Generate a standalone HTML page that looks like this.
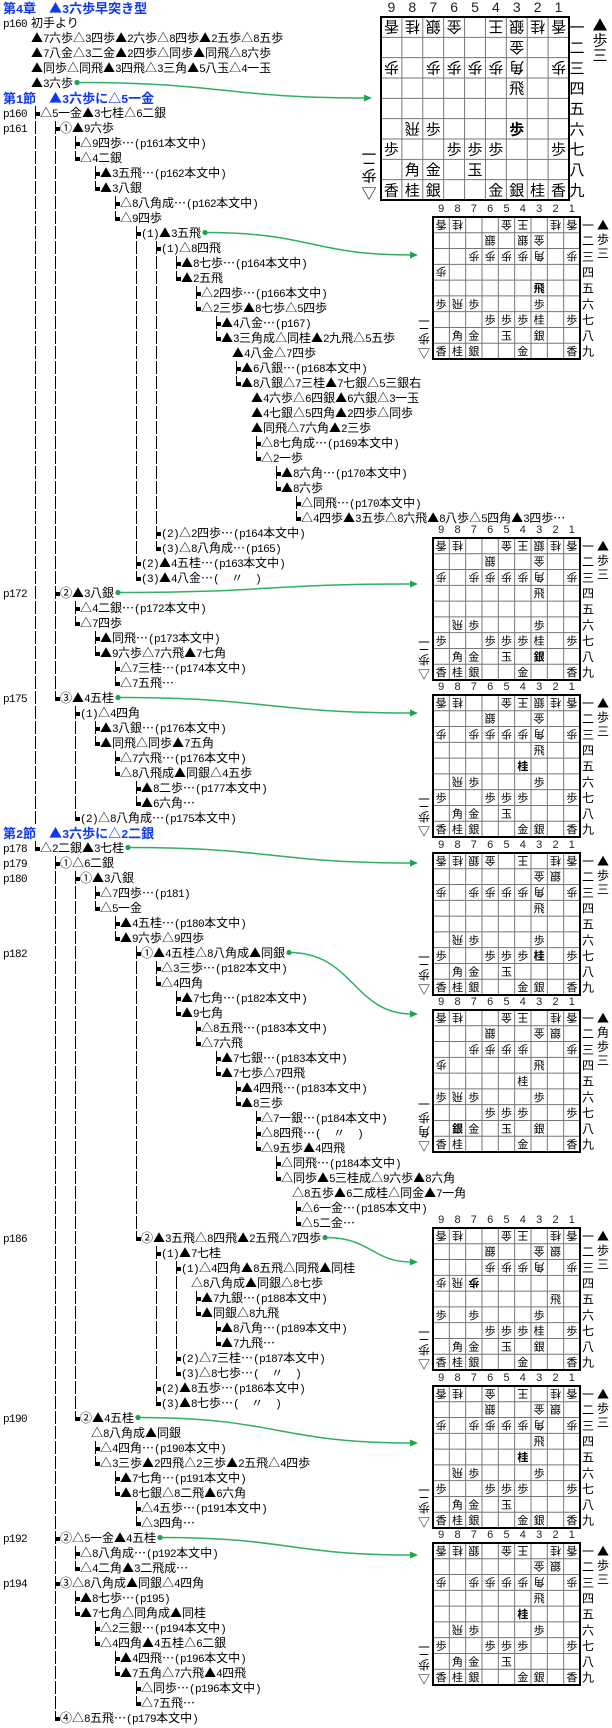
<!DOCTYPE html>
<html><head><meta charset="utf-8">
<style>
html,body{margin:0;padding:0;background:#fff;}
body{width:612px;height:1726px;position:relative;overflow:hidden;font-family:"Noto Sans CJK JP",sans-serif;font-size:12px;color:#000;}
.ln{position:absolute;height:15px;line-height:15px;white-space:nowrap;}
.a{font-family:"Liberation Mono",monospace;font-size:11px;letter-spacing:-0.6px;}
.h{font-weight:bold;color:#1038f0;font-size:13px;}
.h .a{font-size:12px;font-weight:bold;letter-spacing:-0.2px;}
.b{position:absolute;background:#000;}
svg{position:absolute;left:0;top:0;}
</style></head><body>
<div id="t"></div>
<svg id="s" width="612" height="1726" xmlns="http://www.w3.org/2000/svg"></svg>
<script>
const L=[
['H',0,"第4章　▲3六歩早突き型"],
['P',31,"初手より","p160"],
['P',31,"▲7六歩△3四歩▲2六歩△8四歩▲2五歩△8五歩"],
['P',31,"▲7八金△3二金▲2四歩△同歩▲同飛△8六歩"],
['P',31,"▲同歩△同飛▲3四飛△3三角▲5八玉△4一玉"],
['P',31,"▲3六歩",null,0],
['H',0,"第1節　▲3六歩に△5一金"],
['T',0,"△5一金▲3七桂△6二銀","p160"],
['T',1,"①▲9六歩","p161"],
['T',2,"△9四歩…(p161本文中)"],
['L',2,"△4二銀"],
['T',3,"▲3五飛…(p162本文中)"],
['L',3,"▲3八銀"],
['T',4,"△8八角成…(p162本文中)"],
['L',4,"△9四歩"],
['T',5,"(1)▲3五飛",null,1],
['T',6,"(1)△8四飛"],
['T',7,"▲8七歩…(p164本文中)"],
['L',7,"▲2五飛"],
['T',8,"△2四歩…(p166本文中)"],
['L',8,"△2三歩▲8七歩△5四歩"],
['T',9,"▲4八金…(p167)"],
['L',9,"▲3三角成△同桂▲2九飛△5五歩"],
['C',9,"▲4八金△7四歩",null,null,232],
['T',10,"▲6八銀…(p168本文中)"],
['L',10,"▲8八銀△7三桂▲7七銀△5三銀右"],
['C',10,"▲4六歩△6四銀▲6六銀△3一玉",null,null,251],
['C',10,"▲4七銀△5四角▲2四歩△同歩",null,null,251],
['C',10,"▲同飛△7六角▲2三歩",null,null,251],
['T',11,"△8七角成…(p169本文中)"],
['L',11,"△2一歩"],
['T',12,"▲8六角…(p170本文中)"],
['L',12,"▲8六歩"],
['T',13,"△同飛…(p170本文中)"],
['L',13,"△4四歩▲3五歩△8六飛▲8八歩△5四角▲3四歩…"],
['T',6,"(2)△2四歩…(p164本文中)"],
['L',6,"(3)△8八角成…(p165)"],
['T',5,"(2)▲4五桂…(p163本文中)"],
['L',5,"(3)▲4八金…(　〃　)"],
['T',1,"②▲3八銀","p172",2],
['T',2,"△4二銀…(p172本文中)"],
['L',2,"△7四歩"],
['T',3,"▲同飛…(p173本文中)"],
['L',3,"▲9六歩△7六飛▲7七角"],
['T',4,"△7三桂…(p174本文中)"],
['L',4,"△7五飛…"],
['L',1,"③▲4五桂","p175",3],
['T',2,"(1)△4四角"],
['T',3,"▲3八銀…(p176本文中)"],
['L',3,"▲同飛△同歩▲7五角"],
['T',4,"△7六飛…(p176本文中)"],
['L',4,"△8八飛成▲同銀△4五歩"],
['T',5,"▲8二歩…(p177本文中)"],
['L',5,"▲6六角…"],
['L',2,"(2)△8八角成…(p175本文中)"],
['H',0,"第2節　▲3六歩に△2二銀"],
['L',0,"△2二銀▲3七桂","p178",4],
['T',1,"①△6二銀","p179"],
['T',2,"①▲3八銀","p180"],
['T',3,"△7四歩…(p181)"],
['L',3,"△5一金"],
['T',4,"▲4五桂…(p180本文中)"],
['L',4,"▲9六歩△9四歩"],
['T',5,"①▲4五桂△8八角成▲同銀","p182",5],
['T',6,"△3三歩…(p182本文中)"],
['L',6,"△4四角"],
['T',7,"▲7七角…(p182本文中)"],
['L',7,"▲9七角"],
['T',8,"△8五飛…(p183本文中)"],
['L',8,"△7六飛"],
['T',9,"▲7七銀…(p183本文中)"],
['L',9,"▲7七歩△7四飛"],
['T',10,"▲4四飛…(p183本文中)"],
['L',10,"▲8三歩"],
['T',11,"△7一銀…(p184本文中)"],
['T',11,"△8四飛…(　〃　)"],
['L',11,"△9五歩▲4四飛"],
['T',12,"△同飛…(p184本文中)"],
['L',12,"△同歩▲5三桂成△9六歩▲8六角"],
['C',12,"△8五歩▲6二成桂△同金▲7一角",null,null,292],
['T',13,"△6一金…(p185本文中)"],
['L',13,"△5二金…"],
['L',5,"②▲3五飛△8四飛▲2五飛△7四歩","p186",6],
['T',6,"(1)▲7七桂"],
['T',7,"(1)△4四角▲8五飛△同飛▲同桂"],
['C',7,"△8八角成▲同銀△8七歩",null,null,191],
['T',8,"▲7九銀…(p188本文中)"],
['L',8,"▲同銀△8九飛"],
['T',9,"▲8八角…(p189本文中)"],
['L',9,"▲7九飛…"],
['T',7,"(2)△7三桂…(p187本文中)"],
['L',7,"(3)△8七歩…(　〃　)"],
['T',6,"(2)▲8五歩…(p186本文中)"],
['L',6,"(3)▲8七歩…(　〃　)"],
['L',2,"②▲4五桂","p190",7],
['C',2,"△8八角成▲同銀",null,null,91],
['T',3,"△4四角…(p190本文中)"],
['L',3,"△3三歩▲2四飛△2三歩▲2五飛△4四歩"],
['T',4,"▲7七角…(p191本文中)"],
['L',4,"▲8七銀△8二飛▲6六角"],
['T',5,"△4五歩…(p191本文中)"],
['L',5,"△3四角…"],
['T',1,"②△5一金▲4五桂","p192",8],
['T',2,"△8八角成…(p192本文中)"],
['L',2,"△4二角▲3二飛成…"],
['T',1,"③△8八角成▲同銀△4四角","p194"],
['T',2,"▲8七歩…(p195)"],
['L',2,"▲7七角△同角成▲同桂"],
['T',3,"△2三銀…(p194本文中)"],
['L',3,"△4四角▲4五桂△6二銀"],
['T',4,"▲4四飛…(p196本文中)"],
['L',4,"▲7五角△7六飛▲4四飛"],
['T',5,"△同歩…(p196本文中)"],
['L',5,"△7五飛…"],
['L',1,"④△8五飛…(p179本文中)"]
];
const lx=k=>35+20.1*k;
const T=document.getElementById('t');
const wrap=s=>s.replace(/([\x21-\x7e]+)/g,'<span class="a">$1</span>');
function bar(x,y,h,w){const d=document.createElement('div');d.className='b';d.style.left=x+'px';d.style.top=y+'px';d.style.width=(w||1)+'px';d.style.height=h+'px';T.appendChild(d);}
const open=[];const dots={};
L.forEach((l,i)=>{
 const [k,lv,txt,pg,dot,cx]=l;const y=15*i;
 if(pg){const p=document.createElement('div');p.className='ln';p.style.left='3px';p.style.top=y+'px';p.innerHTML=wrap(pg);T.appendChild(p);}
 let tx;
 if(k==='H'){tx=3;}
 else if(k==='P'){tx=lv;}
 else if(k==='C'){for(let j=0;j<=lv;j++)if(open[j])bar(Math.round(lx(j)),y+1,13);tx=cx;}
 else{
  for(let j=0;j<lv;j++)if(open[j])bar(Math.round(lx(j)),y+1,13);
  const x=Math.round(lx(lv));
  if(k==='T')bar(x,y+1,13);else bar(x,y+1,7);
  bar(x,y+7,4,5);
  open[lv]=(k==='T');for(let j=lv+1;j<20;j++)open[j]=false;
  tx=x+5;
 }
 const e=document.createElement('div');e.className='ln'+(k==='H'?' h':'');e.style.left=tx+'px';e.style.top=y+'px';e.innerHTML=wrap(txt);T.appendChild(e);
 if(dot!=null&&dot!==undefined){dots[dot]=[tx+e.offsetWidth+4,y+7.5];}
});
const S=document.getElementById('s');let out='';
const boards=[
 {x:381,y:17,w:188,h:183,big:1,sh:"▲歩三",gh:["△","歩","二"],ay:98,ax:372,rows:[
 "v香 v桂 v銀 v金 . v王 v銀 v桂 v香",". . . . . . v金 . .","v歩 . v歩 v歩 v歩 v歩 v角 . v歩",". . . . . . 飛 . .",". . . . . . . . .",". v飛 歩 . . . *歩 . .","歩 . . 歩 歩 歩 . . 歩",". 角 金 . 玉 . . . .","香 桂 銀 . . 金 銀 桂 香"]},
 {x:433,y:217,ay:255,rows:["v香 v桂 . . v金 v王 . v桂 v香",". . . v銀 . v銀 v金 . .",". . v歩 v歩 v歩 v歩 v角 . v歩","v歩 . . . . . . . .",". . . . . . *飛 . .","歩 v飛 歩 . . . 歩 . .",". . . 歩 歩 歩 桂 . 歩",". 角 金 . 玉 . 銀 . .","香 桂 銀 . . 金 . . 香"]},
 {x:433,y:538,ay:584,rows:["v香 v桂 . . v金 v王 v銀 v桂 v香",". . . v銀 . . v金 . .","v歩 . v歩 v歩 v歩 v歩 v角 . v歩",". . . . . . 飛 . .",". . . . . . . . .",". v飛 歩 . . . 歩 . .","歩 . . 歩 歩 歩 桂 . 歩",". 角 金 . 玉 . *銀 . .","香 桂 銀 . . 金 . . 香"]},
 {x:433,y:695,ay:713,rows:["v香 v桂 . . v金 v王 v銀 v桂 v香",". . . v銀 . . v金 . .","v歩 . v歩 v歩 v歩 v歩 v角 . v歩",". . . . . . 飛 . .",". . . . . *桂 . . .",". v飛 歩 . . . 歩 . .","歩 . . 歩 歩 歩 . . 歩",". 角 金 . 玉 . . . .","香 桂 銀 . . 金 銀 . 香"]},
 {x:433,y:853,ay:863,rows:["v香 v桂 v銀 v金 . v王 . v桂 v香",". . . . . . v金 v銀 .","v歩 . v歩 v歩 v歩 v歩 v角 . v歩",". . . . . . 飛 . .",". . . . . . . . .",". v飛 歩 . . . 歩 . .","歩 . . 歩 歩 歩 *桂 . 歩",". 角 金 . 玉 . . . .","香 桂 銀 . . 金 銀 . 香"]},
 {x:433,y:1010,ay:1014,sh:"▲角歩三",gh:["△","角","歩","一"],rows:["v香 v桂 . . v金 v王 . v桂 v香",". . . v銀 . . v金 v銀 .",". . v歩 v歩 v歩 v歩 . . v歩","v歩 . . . . . 飛 . .",". . . . . 桂 . . .","歩 v飛 歩 . . . 歩 . .",". . . 歩 歩 歩 . . 歩",". *銀 金 . 玉 . 銀 . .","香 桂 . . . 金 . . 香"]},
 {x:433,y:1228,ay:1262,rows:["v香 v桂 . . v金 v王 . v桂 v香",". . . v銀 . . v金 v銀 .",". . . v歩 v歩 v歩 v角 . v歩","v歩 v飛 *v歩 . . . . . .",". . . . . . . 飛 .","歩 . 歩 . . . 歩 . .",". . . 歩 歩 歩 桂 . 歩",". 角 金 . 玉 . 銀 . .","香 桂 銀 . . 金 . . 香"]},
 {x:433,y:1386,ay:1443,rows:["v香 v桂 . v金 . v王 . v桂 v香",". . . v銀 . . v金 v銀 .","v歩 . v歩 v歩 v歩 v歩 v角 . v歩",". . . . . . 飛 . .",". . . . . *桂 . . .",". v飛 歩 . . . 歩 . .","歩 . . 歩 歩 歩 . . 歩",". 角 金 . 玉 . . . .","香 桂 銀 . . 金 銀 . 香"]},
 {x:433,y:1543,ay:1555,rows:["v香 v桂 v銀 . v金 v王 . v桂 v香",". . . . . . v金 v銀 .","v歩 . v歩 v歩 v歩 v歩 v角 . v歩",". . . . . . 飛 . .",". . . . . *桂 . . .",". v飛 歩 . . . 歩 . .","歩 . . 歩 歩 歩 . . 歩",". 角 金 . 玉 . . . .","香 桂 銀 . . 金 銀 . 香"]}
];
const F='font-family="Noto Sans CJK JP, sans-serif"';
const kan=["一","二","三","四","五","六","七","八","九"];
boards.forEach((b,bi)=>{
 const w=b.w||147,h=b.h||142,big=b.big,cw=w/9,ch=h/9,fs=big?15:11,lf=big?15:12;
 for(let i=1;i<9;i++){out+=`<line x1="${b.x+cw*i}" y1="${b.y}" x2="${b.x+cw*i}" y2="${b.y+h}" stroke="#777" stroke-width="1"/>`;out+=`<line x1="${b.x}" y1="${b.y+ch*i}" x2="${b.x+w}" y2="${b.y+ch*i}" stroke="#777" stroke-width="1"/>`;}
 out+=`<rect x="${b.x}" y="${b.y}" width="${w}" height="${h}" fill="none" stroke="#000" stroke-width="2"/>`;
 for(let c=0;c<9;c++)out+=`<text x="${b.x+cw*(c+.5)}" y="${b.y-(big?10:8)}" font-family="Liberation Sans, sans-serif" font-size="${big?14:11}" text-anchor="middle" dominant-baseline="central" fill="#222">${9-c}</text>`;
 for(let r=0;r<9;r++){
  out+=`<text x="${b.x+w+(big?8:8)}" y="${b.y+ch*(r+.5)}" ${F} font-size="${lf}" text-anchor="middle" dominant-baseline="central">${kan[r]}</text>`;
  b.rows[r].split(' ').forEach((t,c)=>{
   if(t==='.')return;let bold=false,g=false;
   if(t[0]==='*'){bold=true;t=t.slice(1);}
   if(t[0]==='v'){g=true;t=t.slice(1);}
   const px=b.x+cw*(c+.5),py=b.y+ch*(r+.5);
   out+=`<text x="${px}" y="${py}" ${F} font-size="${fs}" text-anchor="middle" dominant-baseline="central"${bold?' font-weight="bold"':''}${g?` transform="rotate(180 ${px} ${py})"`:''}>${t}</text>`;
  });
 }
 const sh=[...(b.sh||"▲歩三")];const sx=big?600:603,sy0=big?25:b.y+8,st=big?15:14;
 sh.forEach((c,i)=>{out+=`<text x="${sx}" y="${sy0+st*i}" ${F} font-size="${lf}" text-anchor="middle" dominant-baseline="central">${c}</text>`;});
 const gh=b.gh||["△","歩","二"];const gx=big?369:b.x-9,gy0=big?193:b.y+h-6,gt=big?17:14;
 gh.forEach((c,i)=>{const yy=gy0-gt*i;out+=`<text x="${gx}" y="${yy}" ${F} font-size="${lf}" text-anchor="middle" dominant-baseline="central" transform="rotate(180 ${gx} ${yy})">${c}</text>`;});
 const d=dots[bi];if(d){const ex=b.ax||418,ey=b.ay,sx2=d[0],sy2=d[1];const m=(ex-sx2)*0.5;
  out+=`<path d="M${sx2} ${sy2} C${sx2+m} ${sy2} ${ex-m} ${ey} ${ex-6} ${ey}" fill="none" stroke="#2fb060" stroke-width="1.5"/>`;
  out+=`<polygon points="${ex-8},${ey-3.5} ${ex},${ey} ${ex-8},${ey+3.5}" fill="#1aa64f"/>`;
  out+=`<circle cx="${sx2}" cy="${sy2}" r="2.6" fill="#1aa64f"/>`;}
});
S.innerHTML=out;
</script>
</body></html>
